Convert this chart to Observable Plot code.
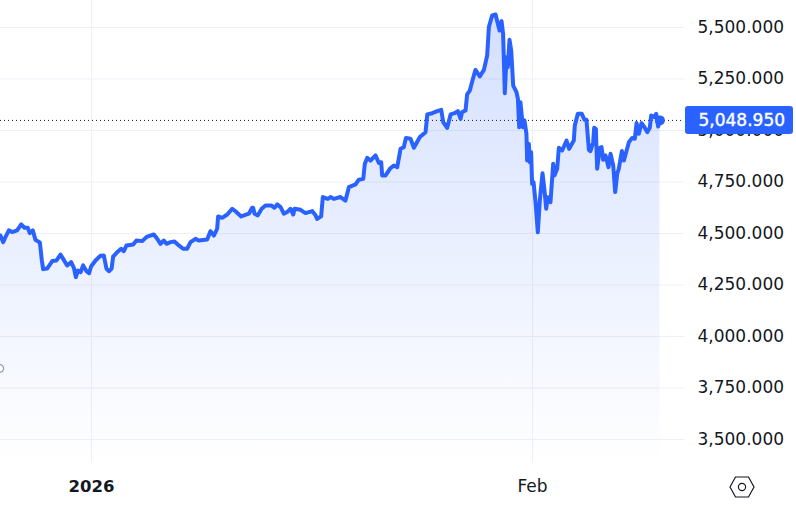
<!DOCTYPE html>
<html>
<head>
<meta charset="utf-8">
<style>html,body{margin:0;padding:0;background:#fff;overflow:hidden}svg{display:block}</style>
<script src="https://cdn.jsdelivr.net/npm/d3@7"></script>
<script src="https://cdn.jsdelivr.net/npm/@observablehq/plot@0.6"></script>
</head>
<body>
<div id="chart"></div>
<script>
// days since 1 Jan 2026
const days = [-6.40,-6.21,-6.05,-5.81,-5.58,-5.23,-4.94,-4.71,-4.48,-4.34,-4.13,-3.94,-3.63,-3.49,-3.40,-3.12,-2.76,-2.46,-2.18,-1.95,-1.71,-1.43,-1.24,-1.10,-0.96,-0.77,-0.59,-0.35,-0.17,-0.03,0.28,0.63,0.87,1.05,1.24,1.41,1.52,1.80,2.08,2.27,2.46,2.93,3.16,3.56,3.91,4.38,4.62,4.85,5.08,5.27,5.55,5.83,6.14,6.44,6.72,6.96,7.31,7.54,8.13,8.36,8.60,8.83,8.90,9.18,9.54,9.89,10.12,10.52,11.06,11.29,
11.36,11.46,11.69,11.96,12.23,12.63,12.86,13.05,13.29,13.52,13.75,13.99,14.18,14.27,14.69,15.04,15.51,15.75,15.86,16.14,16.26,16.61,16.80,17.03,17.50,17.85,18.09,18.56,18.79,19.10,19.21,19.38,19.61,19.96,20.20,20.36,20.43,20.67,20.97,21.25,21.49,21.72,21.95,22.10,22.42,22.66,23.08,23.48,23.60,23.95,24.30,24.58,24.72,25.00,25.24,25.52,25.75,25.94,
26.05,26.29,26.40,26.59,26.83,26.99,27.29,27.58,27.81,27.93,28.16,28.40,28.68,28.82,28.93,29.05,29.17,29.26,29.38,29.50,29.64,29.87,29.97,30.06,30.15,30.32,30.43,30.57,30.62,30.74,30.81,30.90,30.97,31.07,31.21,31.37,31.51,31.70,31.84,31.96,32.07,32.26,32.45,32.54,32.73,32.85,33.08,33.39,33.57,33.90,33.97,34.18,34.46,34.65,34.79,34.96,35.07,35.26,35.33,35.45,35.54,35.73,35.85,35.96,36.13,36.34,36.48,36.67,36.81,36.95,37.06,37.28,37.42,37.77,38.00,38.19,38.31,38.47,38.66,38.87,39.06,39.24,39.34,39.53,39.69,39.83,39.95];
const prices = [4490,4458,4482,4515,4507,4515,4544,4528,4528,4502,4515,4469,4456,4369,4327,4330,4366,4369,4398,4372,4345,4361,4333,4288,4320,4312,4345,4317,4307,4340,4369,4392,4393,4329,4317,4329,4388,4409,4426,4414,4442,4447,4466,4463,4485,4495,4474,4450,4466,4450,4458,4461,4442,4426,4426,4458,4474,4466,4471,4511,4490,4523,4583,4576,4592,4620,4608,4583,4596,4625,
4625,4596,4588,4620,4636,4636,4625,4641,4628,4596,4604,4620,4592,4620,4615,4599,4609,4588,4571,4583,4677,4668,4677,4668,4677,4660,4725,4738,4761,4765,4838,4867,4854,4879,4842,4846,4782,4782,4814,4830,4822,4911,4919,4964,4960,4916,4968,4992,5078,5084,5094,5100,5041,5013,5078,5084,5094,5057,
5089,5097,5175,5194,5256,5294,5262,5294,5364,5502,5558,5563,5485,5531,5469,5181,5356,5307,5440,5388,5218,5186,5154,5016,5137,5016,5049,4984,4854,4935,4846,4895,4741,4749,4652,4506,4660,4793,4709,4620,4676,4652,4838,4782,4814,4916,4903,4951,4911,4951,5024,5081,5081,5052,5052,4906,4900,4943,5013,5008,4814,4916,4919,4858,4879,4822,4887,4830,4701,4790,4814,4900,4854,4943,4964,4960,5036,4984,5036,5016,4992,5013,5073,5065,5081,5019,5048.95];
const yTicks = [3500,3750,4000,4250,4500,4750,5000,5250,5500];
const xTicks = [0,31];
const xLabels = ["2026","Feb"];
const lastPrice = 5048.95;
const lastDay = 39.95;
const stray = {day:-6.46, value:3845};

const series = days.map((d,i)=>({d, p:prices[i]}));
const yFormat = d3.format(",.3f");
const blue = "#2962ff";
const font = "'DejaVu Sans', sans-serif";

function defs(){
  const g = d3.create("svg:g");
  const lg = g.append("defs").append("linearGradient")
    .attr("id","fade").attr("x1",0).attr("x2",0).attr("y1",0).attr("y2",1);
  lg.append("stop").attr("offset",0).attr("stop-color",blue).attr("stop-opacity",0.2);
  lg.append("stop").attr("offset",1).attr("stop-color",blue).attr("stop-opacity",0.0);
  return g.node();
}
function priceBox(index,{y}){
  const yy = y(lastPrice);
  return d3.create("svg:rect")
    .attr("x",685).attr("y",yy-14).attr("width",108).attr("height",28)
    .attr("rx",3).attr("fill",blue).node();
}
function settingsIcon(){
  const g = d3.create("svg:g").attr("transform","translate(742,487)")
    .attr("fill","none").attr("stroke","#131722").attr("stroke-width",1.2);
  g.append("path").attr("d","M-12,0L-6.5,-10L6.5,-10L12,0L6.5,10L-6.5,10Z");
  g.append("circle").attr("r",3.6);
  return g.node();
}

const plot = Plot.plot({
  width:796, height:505,
  marginLeft:0, marginRight:112, marginTop:0, marginBottom:42,
  x:{domain:[-6.397,41.68], axis:null},
  y:{domain:[3383.5,5631], axis:null},
  style:{fontFamily:font, fontSize:"17px", background:"#fff", color:"#131722"},
  marks:[
    defs,
    Plot.ruleY(yTicks,{stroke:"#eef0f6", strokeWidth:1}),
    Plot.ruleX(xTicks,{stroke:"#eef0f6", strokeWidth:1}),
    Plot.areaY(series,{x:"d", y1:3383.5, y2:"p", fill:"url(#fade)"}),
    Plot.ruleY([lastPrice],{stroke:"#131722", strokeWidth:1, strokeDasharray:"1 3"}),
    Plot.line(series,{x:"d", y:"p", stroke:blue, strokeWidth:4, strokeLinejoin:"round", strokeLinecap:"round"}),
    Plot.dot([lastPrice],{x:()=>lastDay, y:d=>d, r:5, fill:blue}),
    Plot.dot([stray],{x:"day", y:"value", r:4, fill:"#fff", stroke:"#787b86", strokeWidth:1}),
    Plot.axisY(yTicks,{anchor:"right", tickSize:0, tickPadding:13, tickFormat:yFormat, fontSize:17, fill:"#131722", label:null}),
    priceBox,
    Plot.text([lastPrice],{y:d=>d, frameAnchor:"right", dx:14, textAnchor:"start", text:d=>yFormat(d), fill:"#fff", stroke:"#fff", strokeWidth:0.4, fontSize:17}),
    Plot.text([xLabels[0]],{x:()=>xTicks[0], frameAnchor:"bottom", dy:23, text:d=>d, fontSize:16.5, fontWeight:"bold", fill:"#131722", lineAnchor:"middle"}),
    Plot.text([xLabels[1]],{x:()=>xTicks[1], frameAnchor:"bottom", dy:23, text:d=>d, fontSize:17, fill:"#131722", lineAnchor:"middle"}),
    settingsIcon
  ]
});
document.getElementById("chart").appendChild(plot);
</script>
</body>
</html>
